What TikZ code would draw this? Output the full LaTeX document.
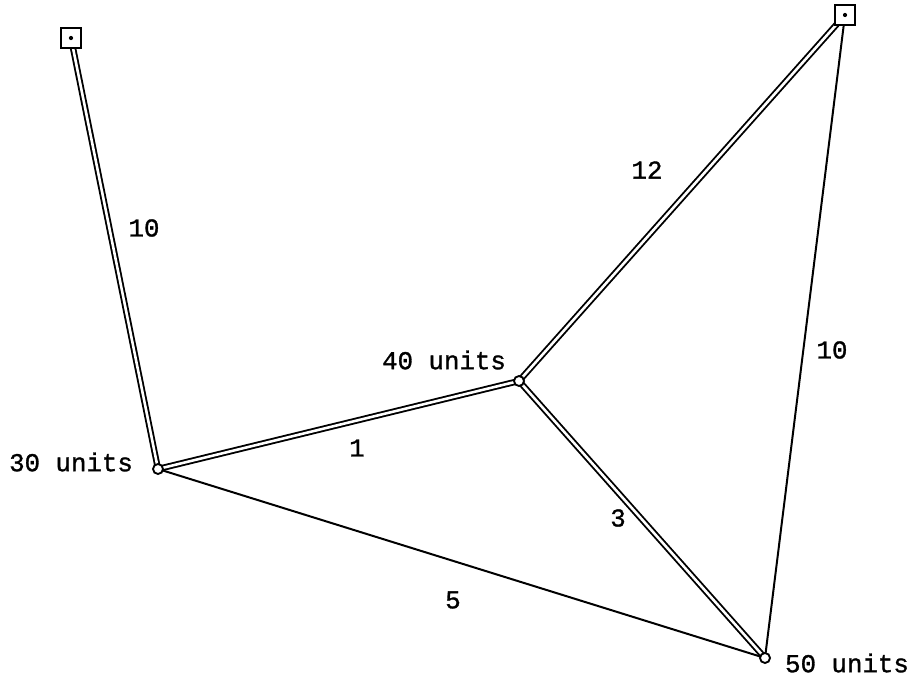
\documentclass[tikz,border=0pt]{standalone}
\usepackage{fontspec}
\newfontfamily\labelfont[FakeBold=1.2]{Liberation Mono}
\usetikzlibrary{calc}

\begin{document}
\begin{tikzpicture}[x=0.03cm, y=-0.03cm,
                    source/.style={rectangle, draw, line width=1.8pt, minimum size=0.6cm, inner sep=0pt, fill=white},
                    town/.style={circle, draw, line width=1.6pt, minimum size=0.3cm, inner sep=0pt, fill=white},
                    pipe/.style={draw, double, line width=1.6pt, double distance=2.2pt},
                    road/.style={draw, line width=1.7pt},
                    lbl/.style={font=\fontsize{22}{26}\selectfont\labelfont}]

    \useasboundingbox (0,0) rectangle (915,681);

    % sources
    \coordinate (p1) at (71,38);
    \coordinate (p2) at (845,15);

    % towns
    \coordinate (a) at (158,469);
    \coordinate (b) at (519,381);
    \coordinate (c) at (765,658);

    % single lines
    \draw[road] (a) -- (c);
    \draw[road] (p2) -- (c);

    % double lines
    \draw[pipe] (p1) -- (a);
    \draw[pipe] (a) -- (b);
    \draw[pipe] (b) -- (p2);
    \draw[pipe] (b) -- (c);

    \node[source] (s1) at (p1) {};
    \node[source] (s2) at (p2) {};
    \fill (s1.center) circle (1.8pt);
    \fill (s2.center) circle (1.8pt);

    \node[town] (ta) at (a) {};
    \node[town] (tb) at (b) {};
    \node[town] (tc) at (c) {};

    % labels
    \node[lbl] (la) at (71,462) {30 units};
    \node[lbl] (lb) at (444,360) {40 units};
    \node[lbl] (lc) at (847,663) {50 units};

    \node[lbl] (w1) at (144,228) {10};
    \node[lbl] (w2) at (647,170) {12};
    \node[lbl] (w3) at (832,350) {10};
    \node[lbl] (w4) at (357,448) {1};
    \node[lbl] (w5) at (618,518) {3};
    \node[lbl] (w6) at (453,600) {5};
\end{tikzpicture}
\end{document}
